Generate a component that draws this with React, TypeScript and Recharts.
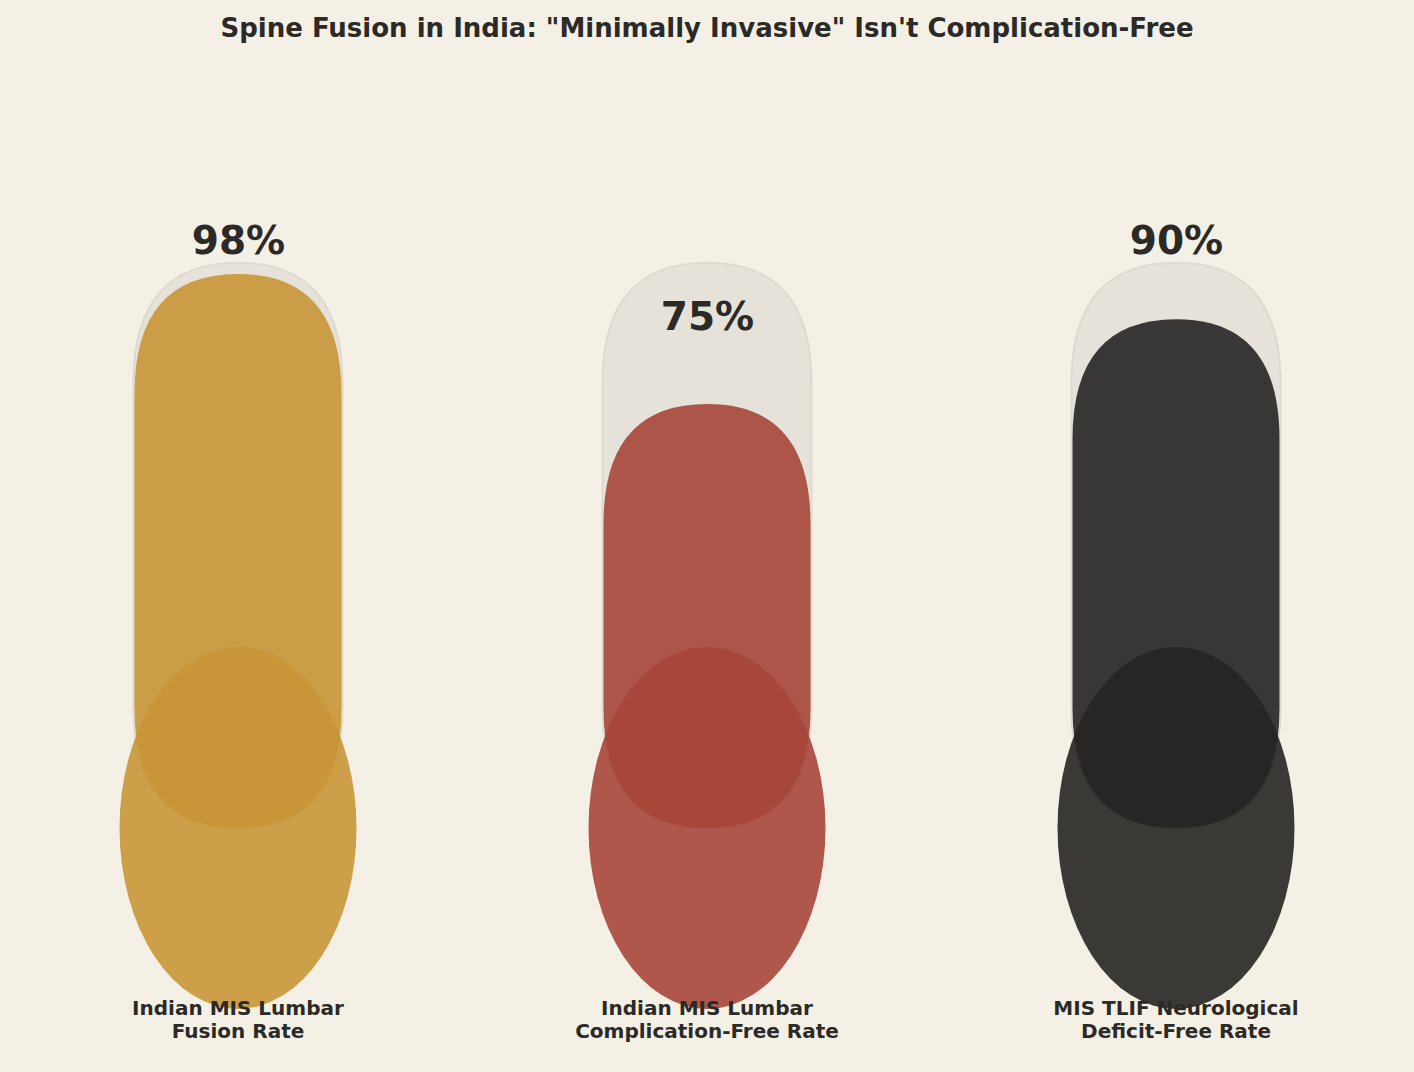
import React from "react";
import { BarChart, Bar, XAxis, YAxis, Cell, LabelList } from "recharts";

const categories = [
  "Indian MIS Lumbar\nFusion Rate",
  "Indian MIS Lumbar\nComplication-Free Rate",
  "MIS TLIF Neurological\nDeficit-Free Rate",
];
const values = [98, 75, 90];
const tubeRange = [0, 100];
const bulbRange = [-32, 32];
const palette = ["#C89636", "#A64639", "#262522"];

const TEXT = "#2B2A26";
const BG = "#F4F0E6";
const FONT = "'DejaVu Sans', sans-serif";

const data = categories.map((name, i) => ({
  name,
  value: values[i],
  fill: [0, values[i]],
  tube: tubeRange,
  bulb: bulbRange,
  labelAt: values[i] > 85 ? 104 : values[i] + 15.5,
}));

const CORNER = 120;

function pillPath(x: number, y: number, w: number, h: number) {
  const r = Math.min(CORNER, h / 2);
  const cx = x + w / 2;
  return [
    `M ${x} ${y + r}`,
    `Q ${x} ${y} ${cx} ${y}`,
    `Q ${x + w} ${y} ${x + w} ${y + r}`,
    `L ${x + w} ${y + h - r}`,
    `Q ${x + w} ${y + h} ${cx} ${y + h}`,
    `Q ${x} ${y + h} ${x} ${y + h - r}`,
    "Z",
  ].join(" ");
}

const TubeShape = (p: any) => {
  const { x, y, width, height } = p;
  if (width == null || height == null) return null;
  return (
    <path
      d={pillPath(x, y, width, height)}
      fill="#E6E2D9"
      stroke="#DEDAD0"
      strokeWidth={2}
    />
  );
};

const FillShape = (p: any) => {
  const { x, y, width, height, fill } = p;
  if (width == null || height == null) return null;
  return <path d={pillPath(x, y, width, height)} fill={fill} fillOpacity={0.9} />;
};

const BulbShape = (p: any) => {
  const { x, y, width, height, fill } = p;
  if (width == null || height == null) return null;
  return (
    <ellipse
      cx={x + width / 2}
      cy={y + height / 2}
      rx={width / 2}
      ry={height / 2}
      fill={fill}
      fillOpacity={0.9}
    />
  );
};

const ValueLabelShape = (p: any) => {
  const { x, y, width, index } = p;
  const v = p.payload?.value ?? values[index];
  return (
    <text
      x={x + width / 2}
      y={y}
      textAnchor="middle"
      dominantBaseline="central"
      fontFamily={FONT}
      fontWeight="bold"
      fontSize={39}
      fill={TEXT}
    >
      {`${v}%`}
    </text>
  );
};

const CategoryLabel = (p: any) => {
  const { x, y, width, height, value } = p;
  const lines = String(value).split("\n");
  const cx = x + width / 2;
  const base = y + height + 6.5;
  return (
    <text
      x={cx}
      y={base}
      textAnchor="middle"
      fontFamily={FONT}
      fontWeight="bold"
      fontSize={20}
      fill={TEXT}
    >
      {lines.map((l, i) => (
        <tspan key={i} x={cx} y={base + i * 23}>
          {l}
        </tspan>
      ))}
    </text>
  );
};

export default function App() {
  return (
    <div
      style={{
        position: "fixed",
        left: 0,
        top: 0,
        width: 1414,
        height: 1072,
        overflow: "hidden",
        background: BG,
      }}
    >
      <div
        style={{
          position: "absolute",
          top: 12,
          left: 0,
          width: 1414,
          textAlign: "center",
          fontFamily: FONT,
          fontWeight: "bold",
          fontSize: 26,
          color: TEXT,
          lineHeight: "32px",
        }}
      >
        Spine Fusion in India: "Minimally Invasive" Isn't Complication-Free
      </div>
      <BarChart
        width={1414}
        height={1072}
        data={data}
        margin={{ top: 93.1, right: 3.5, bottom: 17.9, left: 3.5 }}
      >
        <XAxis xAxisId="tube" dataKey="name" type="category" hide />
        <XAxis xAxisId="fill" dataKey="name" type="category" hide />
        <XAxis xAxisId="bulb" dataKey="name" type="category" hide />
        <XAxis xAxisId="lab" dataKey="name" type="category" hide />
        <YAxis type="number" domain={[-40, 130]} allowDataOverflow hide />
        <Bar
          xAxisId="tube"
          dataKey="tube"
          barSize={209}
          isAnimationActive={false}
          shape={TubeShape}
        />
        <Bar
          xAxisId="fill"
          dataKey="fill"
          barSize={207}
          isAnimationActive={false}
          shape={FillShape}
        >
          {data.map((d, i) => (
            <Cell key={d.name} fill={palette[i]} />
          ))}
        </Bar>
        <Bar
          xAxisId="bulb"
          dataKey="bulb"
          barSize={237}
          isAnimationActive={false}
          shape={BulbShape}
        >
          {data.map((d, i) => (
            <Cell key={d.name} fill={palette[i]} />
          ))}
          <LabelList dataKey="name" content={CategoryLabel} />
        </Bar>
        <Bar
          xAxisId="lab"
          dataKey="labelAt"
          barSize={100}
          isAnimationActive={false}
          shape={ValueLabelShape}
        />
      </BarChart>
    </div>
  );
}
